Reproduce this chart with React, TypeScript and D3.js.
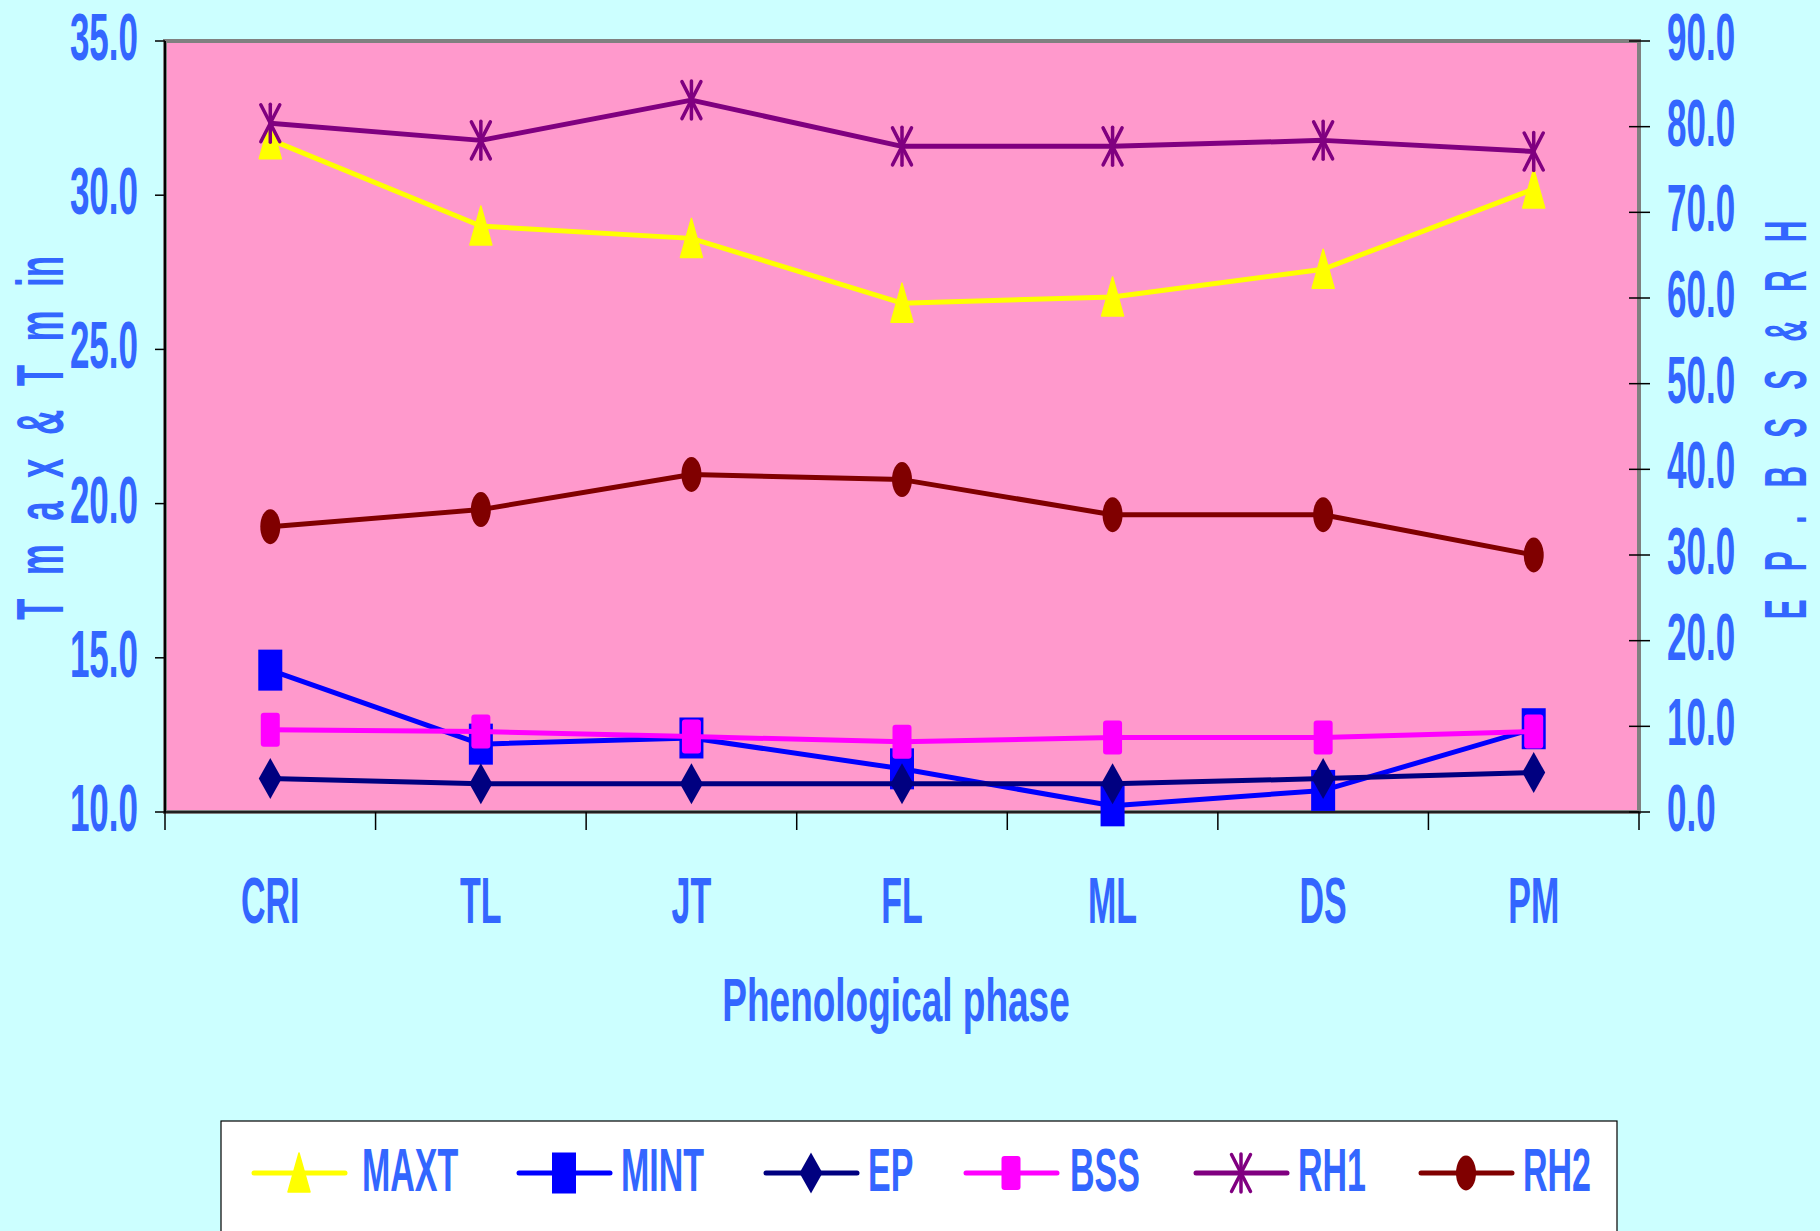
import React from "react";
import * as d3 from "d3";

// Phenological phases and weather series
const phases = ["CRI", "TL", "JT", "FL", "ML", "DS", "PM"];
const maxt = [31.8, 29.0, 28.6, 26.5, 26.7, 27.6, 30.2];
const mint = [14.6, 12.2, 12.4, 11.4, 10.2, 10.7, 12.7];
const ep = [3.9, 3.3, 3.3, 3.3, 3.3, 3.9, 4.6];
const bss = [9.6, 9.4, 8.8, 8.2, 8.7, 8.7, 9.4];
const rh1 = [80.4, 78.4, 83.1, 77.7, 77.7, 78.4, 77.1];
const rh2 = [33.3, 35.3, 39.4, 38.8, 34.7, 34.7, 30.0];

const leftTicks = [10, 15, 20, 25, 30, 35];
const rightTicks = [0, 10, 20, 30, 40, 50, 60, 70, 80, 90];

const W = 1820;
const H = 1231;
const plot = { left: 165, right: 1639, top: 41, bottom: 812 };
const TEXT = "#3366ff";
const FONT = "'Liberation Sans', Arial, sans-serif";
const SY = 1.88;

type Shape = "triangle" | "square" | "diamond" | "roundsq" | "asterisk" | "ellipse";

const series: { name: string; values: number[]; color: string; axis: "left" | "right"; shape: Shape }[] = [
  { name: "MAXT", values: maxt, color: "#ffff00", axis: "left", shape: "triangle" },
  { name: "MINT", values: mint, color: "#0000ff", axis: "left", shape: "square" },
  { name: "EP", values: ep, color: "#000080", axis: "right", shape: "diamond" },
  { name: "BSS", values: bss, color: "#ff00ff", axis: "right", shape: "roundsq" },
  { name: "RH1", values: rh1, color: "#800080", axis: "right", shape: "asterisk" },
  { name: "RH2", values: rh2, color: "#800000", axis: "right", shape: "ellipse" },
];

function Marker({ shape, color, x, y }: { shape: Shape; color: string; x: number; y: number }) {
  const t = `translate(${x},${y})`;
  switch (shape) {
    case "triangle":
      return <path transform={t} d="M0,-20 L11,19 L-11,19 Z" fill={color} stroke={color} strokeWidth={1.5} strokeLinejoin="round" />;
    case "square":
      return <rect transform={t} x={-12} y={-20.5} width={24} height={41} fill={color} />;
    case "diamond":
      return <path transform={t} d="M0,-20.5 L11.5,0 L0,20.5 L-11.5,0 Z" fill={color} />;
    case "roundsq":
      return <rect transform={t} x={-9.5} y={-17} width={19} height={34} rx={3} fill={color} />;
    case "asterisk":
      return (
        <g transform={t} stroke={color} strokeWidth={3.5} strokeLinecap="round" fill="none">
          <line x1={0} y1={-19} x2={0} y2={19} />
          <line x1={-9.5} y1={-18.5} x2={9.5} y2={18.5} />
          <line x1={9.5} y1={-18.5} x2={-9.5} y2={18.5} />
        </g>
      );
    case "ellipse":
      return <ellipse transform={t} cx={0} cy={0} rx={10} ry={17.5} fill={color} />;
  }
}

function Label({ x, y, anchor = "middle", size = 35, sy = SY, children }: any) {
  return (
    <text
      transform={`translate(${x},${y}) scale(1,${sy})`}
      textAnchor={anchor}
      fontSize={size}
      fontWeight="bold"
      fontFamily={FONT}
      fill={TEXT}
    >
      {children}
    </text>
  );
}

export default function App() {
  const x = d3.scaleBand<string>().domain(phases).range([plot.left, plot.right]).padding(0);
  const cx = (p: string) => (x(p) as number) + x.bandwidth() / 2;
  const yL = d3.scaleLinear().domain([10, 35]).range([plot.bottom, plot.top]);
  const yR = d3.scaleLinear().domain([0, 90]).range([plot.bottom, plot.top]);
  const fmt = d3.format(".1f");

  const lineGen = (scale: d3.ScaleLinear<number, number>) =>
    d3
      .line<number>()
      .x((_, i) => cx(phases[i]))
      .y((v) => scale(v));

  const boundaries = [...phases.map((p) => x(p) as number), plot.right];

  const legendItems = [
    { start: 254, text: 362 },
    { start: 519, text: 621 },
    { start: 766, text: 868 },
    { start: 966, text: 1070 },
    { start: 1196, text: 1298 },
    { start: 1421, text: 1523 },
  ];

  return (
    <svg width={W} height={H} style={{ position: "absolute", left: 0, top: 0, display: "block" }}>
      <rect x={0} y={0} width={W} height={H} fill="#ccffff" />

      {/* plot area */}
      <rect
        x={plot.left}
        y={plot.top}
        width={plot.right - plot.left}
        height={plot.bottom - plot.top}
        fill="#ff99cc"
        stroke="#808080"
        strokeWidth={4}
      />
      <line x1={plot.left} y1={plot.top} x2={plot.left} y2={plot.bottom} stroke="#000" strokeWidth={2} />
      <line x1={plot.left} y1={plot.bottom} x2={plot.right} y2={plot.bottom} stroke="#000" strokeWidth={1.5} />

      {/* left axis */}
      {leftTicks.map((t) => (
        <g key={"l" + t}>
          <line x1={plot.left - 10} x2={plot.left} y1={yL(t)} y2={yL(t)} stroke="#000" strokeWidth={1.5} />
          <Label x={138} y={yL(t) + 19} anchor="end">
            {fmt(t)}
          </Label>
        </g>
      ))}

      {/* right axis */}
      {rightTicks.map((t) => (
        <g key={"r" + t}>
          <line x1={plot.right - 10} x2={plot.right + 11} y1={yR(t)} y2={yR(t)} stroke="#000" strokeWidth={1.5} />
          <Label x={1667} y={yR(t) + 19} anchor="start">
            {fmt(t)}
          </Label>
        </g>
      ))}

      {/* category axis */}
      {boundaries.map((b, i) => (
        <line key={"b" + i} x1={b} x2={b} y1={plot.bottom} y2={plot.bottom + 18} stroke="#000" strokeWidth={1.5} />
      ))}
      {phases.map((p) => (
        <Label key={p} x={cx(p)} y={923} size={34}>
          {p}
        </Label>
      ))}

      {/* series */}
      {series.map((s) => {
        const sc = s.axis === "left" ? yL : yR;
        return (
          <g key={s.name}>
            <path d={lineGen(sc)(s.values) as string} fill="none" stroke={s.color} strokeWidth={5} strokeLinejoin="round" />
            {s.values.map((v, i) => (
              <Marker key={i} shape={s.shape} color={s.color} x={cx(phases[i])} y={sc(v)} />
            ))}
          </g>
        );
      })}

      {/* axis titles */}
      <Label x={896} y={1021} size={37} sy={1.65}>
        Phenological phase
      </Label>
      <text
        transform={`translate(63,438) rotate(-90) scale(1,${SY})`}
        textAnchor="middle"
        fontSize={35}
        fontWeight="bold"
        fontFamily={FONT}
        fill={TEXT}
        style={{ wordSpacing: "13.7px" }}
      >
        T m a x &amp; T m in
      </text>
      <text
        transform={`translate(1806,420) rotate(-90) scale(1,2.0)`}
        textAnchor="middle"
        fontSize={30}
        fontWeight="bold"
        fontFamily={FONT}
        fill={TEXT}
        style={{ wordSpacing: "19.7px" }}
      >
        E P . B S S &amp; R H
      </text>

      {/* legend */}
      <rect x={221} y={1121} width={1396} height={130} fill="#ffffff" stroke="#000" strokeWidth={1.2} />
      {series.map((s, i) => {
        const it = legendItems[i];
        const ly = 1173;
        return (
          <g key={"lg" + s.name}>
            <line x1={it.start} x2={it.start + 91} y1={ly} y2={ly} stroke={s.color} strokeWidth={5} strokeLinecap="round" />
            <Marker shape={s.shape} color={s.color} x={it.start + 45} y={ly} />
            <Label x={it.text} y={1191} anchor="start" size={34} sy={1.82}>
              {s.name}
            </Label>
          </g>
        );
      })}
    </svg>
  );
}
